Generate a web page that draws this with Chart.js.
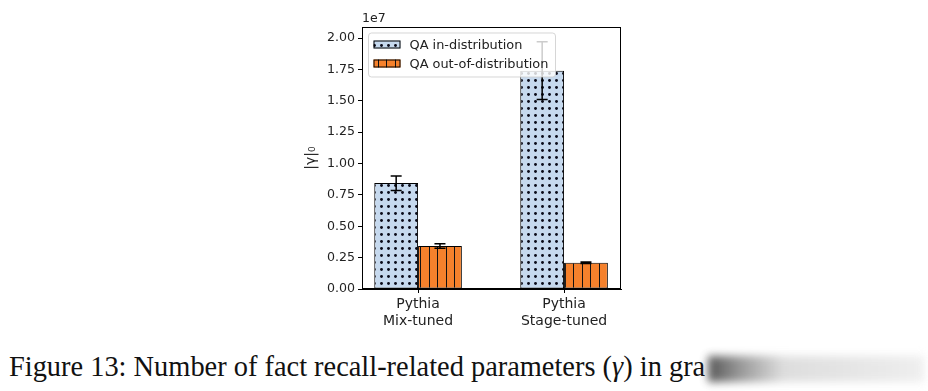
<!DOCTYPE html>
<html>
<head>
<meta charset="utf-8">
<script src="https://cdn.jsdelivr.net/npm/chart.js@4.4.1/dist/chart.umd.min.js"></script>
<style>
  body { margin: 0; background: #fff; }
  #wrap { position: relative; width: 928px; height: 391px; overflow: hidden; }
  #chart { position: absolute; left: 0; top: 0; }
  #caption {
    position: absolute; left: 9px; top: 351px;
    font-family: "Liberation Serif", "Times New Roman", serif;
    font-size: 28.4px; color: #111; white-space: nowrap;
  }
  #smudge {
    position: absolute; left: 708px; top: 356px; width: 216px; height: 26px;
    background: linear-gradient(90deg, #3a3a3a 0%, #888 15%, #d8d8d8 35%, #ececec 100%);
    filter: blur(4px); opacity: 0.85;
  }
</style>
</head>
<body>
<div id="wrap">
  <canvas id="chart" width="928" height="340"></canvas>
  <div id="caption">Figure 13: Number of fact recall-related parameters (<i>γ</i>) in gra</div>
  <div id="smudge"></div>
</div>
<script>
// data
const categories = [['Pythia', 'Mix-tuned'], ['Pythia', 'Stage-tuned']];
const groupPos = [0, 1];
const inDist = [8.45e6, 1.74e7];
const inDistLow = [7.85e6, 1.51e7];
const inDistHigh = [9.0e6, 1.97e7];
const outDist = [3.43e6, 2.1e6];
const outDistLow = [3.25e6, 2.04e6];
const outDistHigh = [3.6e6, 2.16e6];
const yTicks = [0, 0.25e7, 0.5e7, 0.75e7, 1.0e7, 1.25e7, 1.5e7, 1.75e7, 2.0e7];
const seriesNames = ['QA in-distribution', 'QA out-of-distribution'];

const blueFill = '#c6d9ee';
const orangeFill = '#f5812c';

function dotPattern() {
    const c = document.createElement('canvas');
    c.width = 7; c.height = 7;
    const g = c.getContext('2d');
    g.fillStyle = blueFill;
    g.fillRect(0, 0, 7, 7);
    g.fillStyle = '#0a0a18';
    g.beginPath();
    g.arc(3.5, 3.5, 1.45, 0, Math.PI * 2);
    g.fill();
    return g.createPattern(c, 'repeat');
}

function linePattern() {
    const c = document.createElement('canvas');
    c.width = 17; c.height = 10;
    const g = c.getContext('2d');
    g.fillStyle = orangeFill;
    g.fillRect(0, 0, 17, 10);
    g.fillStyle = '#111';
    g.fillRect(4, 0, 1, 10);
    g.fillRect(12, 0, 1, 10);
    return g.createPattern(c, 'repeat');
}

const dots = dotPattern();
const vlines = linePattern();
const errLow = [inDistLow, outDistLow];
const errHigh = [inDistHigh, outDistHigh];

// error bars drawn over the bars
const errorBars = {
    id: 'errorBars',
    afterDatasetsDraw(chart) {
        const ctx = chart.ctx;
        const y = chart.scales.y;
        ctx.save();
        ctx.strokeStyle = '#000';
        ctx.lineWidth = 1.5;
        chart.data.datasets.forEach((ds, i) => {
            chart.getDatasetMeta(i).data.forEach((bar, j) => {
                const lo = y.getPixelForValue(errLow[i][j]);
                const hi = y.getPixelForValue(errHigh[i][j]);
                ctx.beginPath();
                ctx.moveTo(bar.x, lo); ctx.lineTo(bar.x, hi);
                ctx.moveTo(bar.x - 5.5, lo); ctx.lineTo(bar.x + 5.5, lo);
                ctx.moveTo(bar.x - 5.5, hi); ctx.lineTo(bar.x + 5.5, hi);
                ctx.stroke();
            });
        });
        ctx.restore();
    }
};

// frame, offset text and the in-axes legend
const decorations = {
    id: 'decorations',
    afterDraw(chart) {
        const ctx = chart.ctx;
        const a = chart.chartArea;
        ctx.save();
        ctx.strokeStyle = '#000';
        ctx.lineWidth = 1;
        ctx.strokeRect(Math.round(a.left) + 0.5, Math.round(a.top) + 0.5,
            Math.round(a.right - a.left) - 1, Math.round(a.bottom - a.top) - 1);

        ctx.fillStyle = '#222';
        ctx.font = '12.5px "DejaVu Sans"';
        ctx.textBaseline = 'alphabetic';
        ctx.fillText('1e7', a.left, a.top - 5);

        // legend box
        const lx = a.left + 6.5, ly = a.top + 6, lw = 187, lh = 44;
        ctx.fillStyle = 'rgba(255,255,255,0.8)';
        ctx.strokeStyle = 'rgba(204,204,204,0.8)';
        ctx.beginPath();
        ctx.roundRect(lx, ly, lw, lh, 3);
        ctx.fill();
        ctx.stroke();

        const fills = [dots, vlines];
        ctx.font = '12.9px "DejaVu Sans"';
        ctx.textBaseline = 'middle';
        seriesNames.forEach((name, i) => {
            const ry = ly + 11.5 + i * 19;
            ctx.fillStyle = fills[i];
            ctx.fillRect(lx + 5, ry - 4, 27, 8);
            ctx.strokeStyle = '#000';
            ctx.strokeRect(lx + 5.5, ry - 3.5, 26, 7);
            ctx.fillStyle = '#222';
            ctx.fillText(name, lx + 41, ry + 1);
        });
        ctx.restore();
    }
};

new Chart(document.getElementById('chart'), {
    type: 'bar',
    data: {
        datasets: [
            {
                label: seriesNames[0],
                data: groupPos.map((x, i) => ({ x: x, y: inDist[i] })),
                backgroundColor: dots,
                borderColor: '#000',
                borderWidth: 1,
                borderSkipped: false
            },
            {
                label: seriesNames[1],
                data: groupPos.map((x, i) => ({ x: x, y: outDist[i] })),
                backgroundColor: vlines,
                borderColor: '#000',
                borderWidth: 1,
                borderSkipped: false
            }
        ]
    },
    options: {
        responsive: false,
        animation: false,
        categoryPercentage: 0.6,
        barPercentage: 1.0,
        layout: { padding: { left: 300, right: 307, top: 27, bottom: 11 } },
        plugins: {
            legend: { display: false },
            tooltip: { enabled: false }
        },
        scales: {
            x: {
                type: 'linear',
                offset: false,
                min: -0.384,
                max: 1.39,
                afterBuildTicks: (axis) => { axis.ticks = groupPos.map(v => ({ value: v })); },
                afterFit: (axis) => { axis.height = 40; },
                grid: { display: true, drawOnChartArea: false, offset: false, color: '#000', tickLength: 4 },
                border: { display: true, color: '#000', width: 1 },
                ticks: {
                    color: '#222',
                    font: { family: 'DejaVu Sans', size: 14, lineHeight: 1.27 },
                    padding: 2,
                    maxRotation: 0,
                    callback: (v) => categories[groupPos.indexOf(v)]
                }
            },
            y: {
                min: 0,
                max: 2.088e7,
                afterBuildTicks: (axis) => { axis.ticks = yTicks.map(v => ({ value: v })); },
                afterFit: (axis) => { axis.width = 62; },
                grid: { display: true, drawOnChartArea: false, color: '#000', tickLength: 4 },
                border: { display: true, color: '#000', width: 1 },
                title: {
                    display: true,
                    text: '|γ|₀',
                    color: '#222',
                    font: { family: 'DejaVu Sans', size: 14 },
                    padding: { top: 3, bottom: 0 }
                },
                ticks: {
                    color: '#222',
                    font: { family: 'DejaVu Sans', size: 12.6 },
                    padding: 3,
                    callback: (v) => (v / 1e7).toFixed(2)
                }
            }
        }
    },
    plugins: [errorBars, decorations]
});
</script>
</body>
</html>
